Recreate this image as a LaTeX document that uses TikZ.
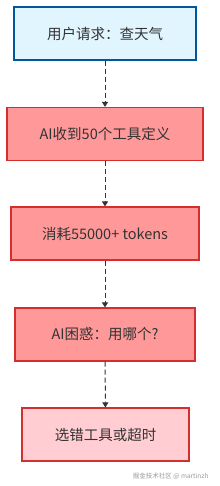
\documentclass[tikz,border=0pt]{standalone}
\usepackage{fontspec}
\setmainfont{Noto Sans CJK SC}
\usetikzlibrary{arrows.meta}
\definecolor{bluefill}{HTML}{E1F5FE}
\definecolor{blueline}{HTML}{01579B}
\definecolor{redfill}{HTML}{FF9999}
\definecolor{redline}{HTML}{D32F2F}
\definecolor{pinkfill}{HTML}{FFCDD2}
\definecolor{txt}{HTML}{333333}
\tikzset{
  box/.style={draw, line width=1.2pt, minimum height=53pt, text=txt, font=\fontsize{14.5}{16}\selectfont, inner sep=0pt},
  bluebox/.style={box, fill=bluefill, draw=blueline},
  redbox/.style={box, fill=redfill, draw=redline},
  pinkbox/.style={box, fill=pinkfill, draw=redline},
  conn/.style={draw=txt, line width=1pt, dash pattern=on 5pt off 3pt, -{Triangle[length=5pt,width=6pt]}}
}
\begin{document}
\begin{tikzpicture}[x=1pt,y=1pt]
\useasboundingbox (0,0) rectangle (219,-486);
\node[bluebox, minimum width=182pt] (a) at (105,-33.5) {用户请求：查天气};
\node[redbox, minimum width=196pt] (b) at (105,-134) {AI收到50个工具定义};
\node[redbox, minimum width=188pt] (c) at (105,-233.5) {消耗55000+ tokens};
\node[redbox, minimum width=180pt] (d) at (105,-334.5) {AI困惑：用哪个?};
\node[pinkbox, minimum width=167pt] (e) at (105.5,-434.5) {选错工具或超时};
\draw[conn] (a) -- (b);
\draw[conn] (b) -- (c);
\draw[conn] (c) -- (d);
\draw[conn] (d) -- (e);
\node[text=gray!80, font=\fontsize{6.5}{7}\selectfont, anchor=east] (w) at (212,-476) {掘金技术社区 @ martinzh};
\end{tikzpicture}
\end{document}
